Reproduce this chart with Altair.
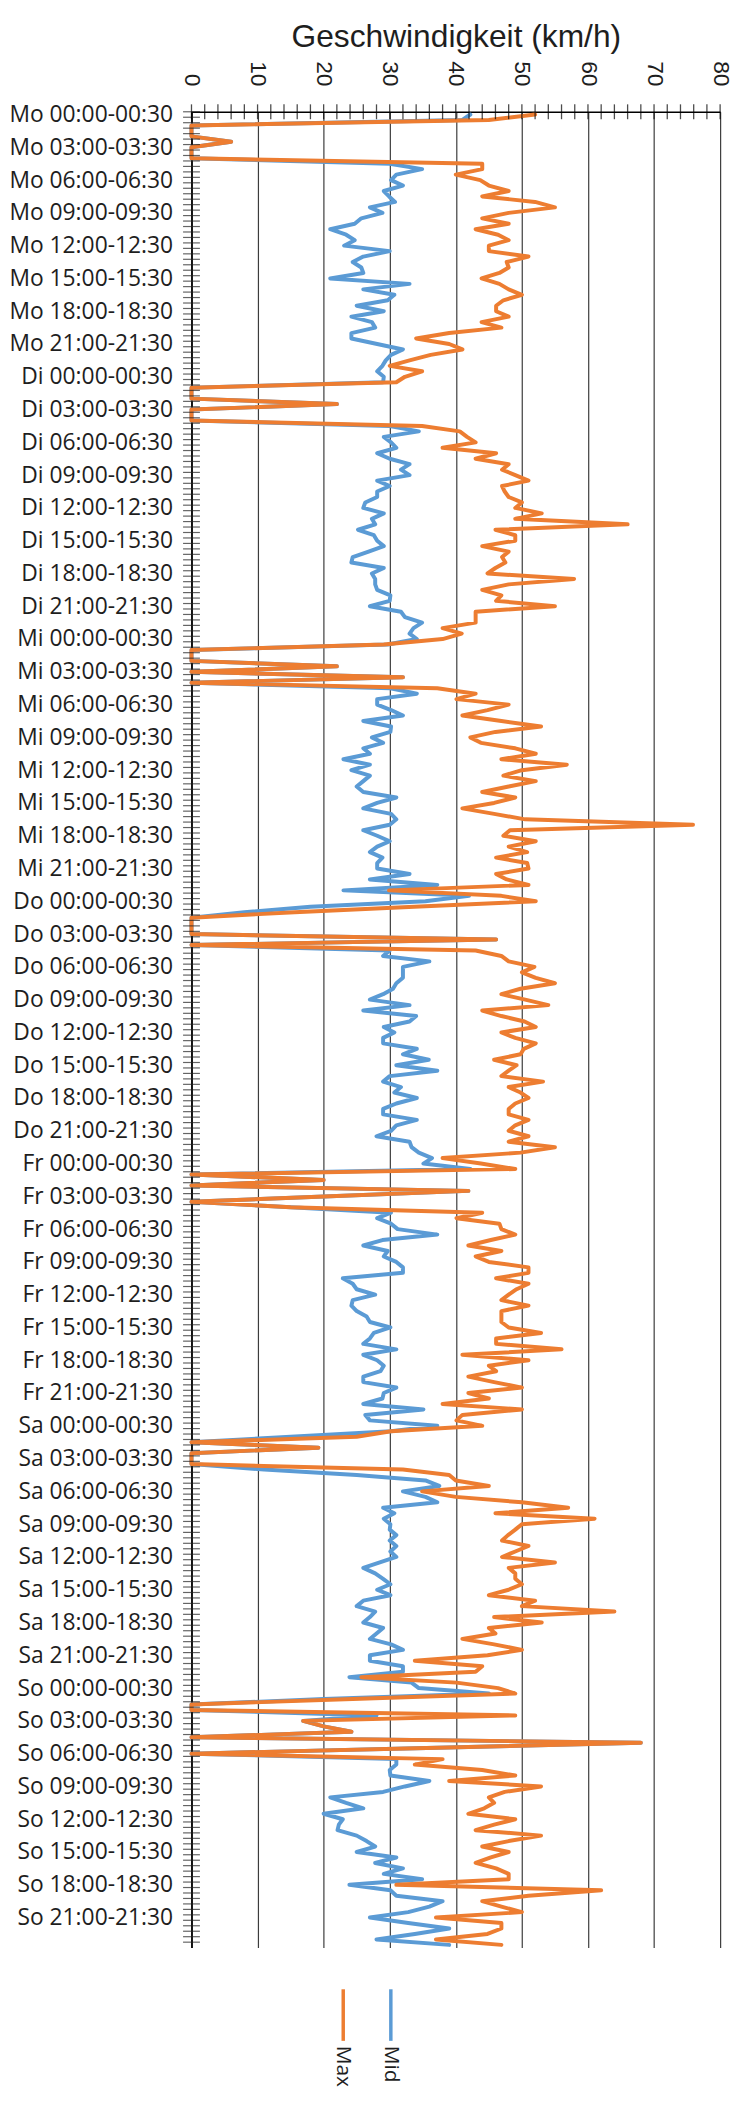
import pandas as pd
import altair as alt

DAYS = ["Mo", "Di", "Mi", "Do", "Fr", "Sa", "So"]
SERIES = ["Mid", "Max"]
COLORS = ["#5B9BD5", "#ED7D31"]
X_TICKS = list(range(0, 81, 10))
X_MINOR = list(range(0, 81, 2))

# km/h per half-hour slot, one list of 48 per weekday
MID_MO = [42.2, 41, 0, 0, 0, 6, 0, 0, 0, 30, 34.9, 31, 30.2, 32, 29.1, 29.9, 30.8, 27, 28.9, 25.7,
          24.7, 21, 23.4, 24.7, 23.1, 30, 26, 24.4, 25.7, 26, 21, 33, 26, 30.7, 29.7, 25, 29.1, 24.2,
          27.3, 27.8, 24.2, 24.2, 28.1, 32, 30.2, 29.4, 28.9, 28.1]
MAX_MO = [52, 45, 0, 0, 0, 6, 0, 0, 0, 44, 44, 40, 43.7, 45, 48, 44, 52, 55, 48, 44,
          48, 43, 46.4, 48, 45, 45, 51, 47.7, 48, 46.6, 43.9, 46.6, 48, 50, 47.2, 46.1, 46.1, 48,
          43.9, 46.9, 39, 34, 39, 41, 36.2, 33, 30, 34.9]
MID_DI = [29.1, 29, 0, 0, 0, 22, 0, 0, 0, 30, 34.4, 29.1, 30.2, 31, 28.1, 30, 33, 31.7, 33, 28.1,
          30, 28.1, 28.1, 26.3, 26, 29.1, 27.3, 27.8, 25.2, 27.6, 28.1, 29.1, 26.8, 24.4, 24.2, 29.1,
          27.3, 27.8, 27.8, 28.1, 30.1, 30, 27, 31.7, 32.3, 34.9, 33.6, 33]
MAX_DI = [32.3, 31, 0, 0, 0, 22, 0, 0, 0, 34.9, 40.6, 41.7, 43, 38, 46.1, 43, 48, 47, 49, 51,
          47, 47.4, 48, 50, 49, 53, 49, 66, 46, 49, 49, 44, 48, 47, 47.5, 46,
          44.8, 57.9, 48, 44, 46.9, 46.1, 55, 43, 43, 43, 38, 40.9]
MID_MI = [34.1, 29.7, 0, 0, 0, 22, 0, 32, 0, 30.1, 34.1, 28.1, 28.1, 30.2, 32, 26, 30.2, 30.1, 27.3, 29,
          26, 27, 23, 27, 24.2, 27, 26, 25, 26, 31, 28.1, 26, 30.2, 31, 30, 26,
          28.1, 30, 28.1, 27, 28.9, 28.1, 28.1, 33, 27, 37.2, 23, 42]
MAX_MI = [38, 29.1, 0, 0, 0, 22, 0, 32, 0, 37.2, 43, 40.1, 48, 44.8, 41, 46.9, 52.9, 46, 42.2, 43.8,
          49, 52.1, 46.9, 56.8, 50, 47.2, 52.1, 48, 44, 49, 45.8, 41, 45.8, 50.5, 75.9, 48.2,
          47.2, 52.1, 48, 50.8, 46.1, 50.8, 51, 46.1, 47.7, 51, 29.9, 46.9]
MID_DO = [35.4, 18, 8, 0, 0, 0, 0, 46.1, 0, 30, 29, 36, 32, 32, 32, 31, 30.5, 29, 27, 33,
          26, 34, 33, 29.1, 30.7, 29, 29, 34.1, 32, 35.9, 31, 37.2, 30, 29, 31.7, 30.7,
          34.1, 31, 29, 29, 34.1, 31, 30.2, 28, 33, 33.3, 34.4, 36.4]
MAX_DO = [52.1, 33.7, 15.6, 0, 0, 0, 0, 46.1, 0, 43, 46.9, 48, 51.9, 50, 52.1, 55, 49.8, 46.9, 50.5, 54,
          44, 46.9, 50.4, 52.1, 46.9, 49, 52.1, 50.3, 49.8, 45.8, 49.2, 48, 46.9, 53.2, 48, 49.8,
          51, 49, 48, 48, 51, 49, 48, 51, 48, 55, 49.8, 38]
MID_FR = [35.1, 42.2, 0, 20, 0, 41.9, 21, 0, 15, 30.2, 28.1, 30.2, 31.2, 37.2, 28.9, 26, 29.7, 29.1, 31, 32,
          32, 22.9, 24.4, 25, 27.8, 24.4, 24.2, 25, 26.5, 27, 30.1, 27.6, 27, 26, 31, 26,
          28.1, 29.1, 28.6, 26, 26, 31, 29.1, 28.9, 26, 35.1, 26.3, 27]
MAX_FR = [43.8, 49, 0, 20, 0, 41.9, 21, 0, 15, 44, 40.1, 46.6, 46.9, 49, 45.3, 41.9, 46.9, 43, 45, 51,
          51, 46.1, 51, 49.2, 48, 46.9, 51, 46.9, 46.9, 46.9, 48, 52.9, 46.1, 46.1, 56, 41,
          51, 45, 46.1, 41.9, 45.8, 50, 41.9, 45, 38, 50, 41, 40.1]
MID_SA = [37.2, 30.2, 15, 0, 19.2, 0, 0, 0, 11, 25, 35.4, 37.5, 32, 35.4, 37.2, 29, 30.7, 29.1, 30.1, 30,
          31, 30, 31, 30.1, 31, 28.5, 26, 27.8, 29, 30.1, 28.1, 30.1, 26, 25, 27.8, 27,
          26, 29, 28, 27, 30.2, 32, 27, 27, 32, 32, 23.9, 33.3]
MAX_SA = [44, 30.2, 25, 0, 19.2, 0, 0, 0, 32, 39, 40, 45, 34.9, 40, 50, 57, 46, 61, 50, 49,
          47.9, 47, 51, 49, 47, 55, 48, 49, 49, 50, 48, 45, 52, 50, 64, 45.8,
          53, 45, 46, 41, 45.8, 50, 44.8, 33.8, 44, 43, 25.7, 40.1]
MID_SO = [34.4, 45, 20, 0, 0, 28, 16.9, 20, 24.2, 0, 68, 34, 0, 31, 31, 30, 30.1, 36, 32.3, 29,
          21, 23.4, 26, 20, 22.9, 22.3, 22.1, 25, 26.5, 27.8, 25, 31, 27.8, 32, 29.1, 34.9,
          23.9, 30.1, 31, 38, 36, 32.8, 27, 32.8, 39, 33.8, 28, 39]
MAX_SO = [46.4, 49, 24.4, 0, 0, 49, 16.9, 20, 24.2, 0, 68, 34, 0, 38, 33.8, 44, 49, 39, 52.9, 47.4,
          45, 45.8, 44.3, 41.9, 49, 45.8, 43, 52.9, 48, 44, 48, 45.3, 43, 46.1, 48, 48,
          31, 62, 51, 44, 46.9, 50, 37, 46.9, 46.9, 44.8, 37, 46.9]


def slot_label(day, i):
    h, m = divmod(i * 30, 60)
    h2, m2 = divmod(i * 30 + 30, 60)
    return f"{day} {h:02d}:{m:02d}-{h2 % 24:02d}:{m2:02d}"


SLOTS = [slot_label(d, i) for d in DAYS for i in range(48)]
Y_LABELS = SLOTS[::6]

mid = MID_MO + MID_DI + MID_MI + MID_DO + MID_FR + MID_SA + MID_SO
mx = MAX_MO + MAX_DI + MAX_MI + MAX_DO + MAX_FR + MAX_SA + MAX_SO

df = pd.concat([
    pd.DataFrame({"slot": SLOTS, "idx": range(len(SLOTS)), "series": "Mid", "kmh": mid}),
    pd.DataFrame({"slot": SLOTS, "idx": range(len(SLOTS)), "series": "Max", "kmh": mx}),
])
slots_df = pd.DataFrame({"slot": SLOTS})
minor_df = pd.DataFrame({"kmh": X_MINOR})
legend_df = pd.DataFrame({"series": ["Max", "Mid"]})

x_scale = alt.Scale(domain=[0, 80], nice=False)
y_scale = alt.Scale(type="point", domain=SLOTS, padding=0.5)
color_scale = alt.Scale(domain=SERIES, range=COLORS)

x_axis = alt.Axis(
    orient="top", values=X_TICKS, grid=True, gridColor="#3c3c3c", gridWidth=1.2,
    ticks=False, domainColor="#000", domainWidth=1.7,
    labelAngle=90, labelAlign="right", labelBaseline="middle", labelPadding=26,
    labelFlush=False, labelFont="Liberation Sans", labelFontSize=23, labelColor="#1e1e1e",
    title="Geschwindigkeit (km/h)", titleFont="Liberation Sans", titleFontSize=32,
    titleFontWeight="normal", titleColor="#1e1e1e", titleY=-66, titleBaseline="alphabetic",
)
y_axis = alt.Axis(
    values=Y_LABELS, ticks=False, grid=False, domainColor="#000", domainWidth=1.7,
    labelPadding=19, labelFont="Open Sans", labelFontSize=23, labelColor="#1e1e1e",
    labelLimit=400, title=None,
)

base = alt.Chart(df).mark_line(strokeWidth=4, strokeJoin="round", strokeCap="round").encode(
    x=alt.X("kmh:Q", scale=x_scale, axis=x_axis),
    y=alt.Y("slot:O", scale=y_scale, axis=y_axis),
    color=alt.Color("series:N", scale=color_scale, legend=None),
    order="idx:Q",
)
mid_line = base.transform_filter(alt.datum.series == "Mid")
max_line = base.transform_filter(alt.datum.series == "Max")

# crossing tick marks on both axes, as in the spreadsheet original
cat_ticks = alt.Chart(slots_df).mark_tick(
    orient="horizontal", size=17, thickness=1.2, color="#222", yOffset=-2.75
).encode(
    x=alt.value(0),
    y=alt.Y("slot:O", scale=y_scale, axis=y_axis),
)
val_ticks = alt.Chart(minor_df).mark_tick(
    orient="vertical", size=15, thickness=1.3, color="#000"
).encode(
    x=alt.X("kmh:Q", scale=x_scale, axis=x_axis),
    y=alt.value(0),
)

main = alt.layer(mid_line, max_line, cat_ticks, val_ticks)

leg_x = alt.X("series:N", scale=alt.Scale(type="point", domain=["Max", "Mid"], range=[153, 201], padding=0), axis=None)
leg_line = alt.Chart(legend_df).mark_rule(strokeWidth=3.5).encode(
    x=leg_x, y=alt.value(1893), y2=alt.value(1945),
    color=alt.Color("series:N", scale=color_scale, legend=None),
)
leg_text = alt.Chart(legend_df).mark_text(
    angle=90, align="left", baseline="middle", font="Open Sans", fontSize=21, color="#1e1e1e"
).encode(x=leg_x, y=alt.value(1950), text="series:N")

chart = (
    alt.layer(main, leg_line, leg_text)
    .resolve_scale(x="independent")
    .properties(
        width=533, height=1851,
        autosize=alt.AutoSizeParams(type="none"),
        padding={"left": 185, "top": 96, "right": 15, "bottom": 145},
    )
    .configure_view(stroke=None)
)

chart.save("out.html", embed_options={"renderer": "svg", "actions": False})
